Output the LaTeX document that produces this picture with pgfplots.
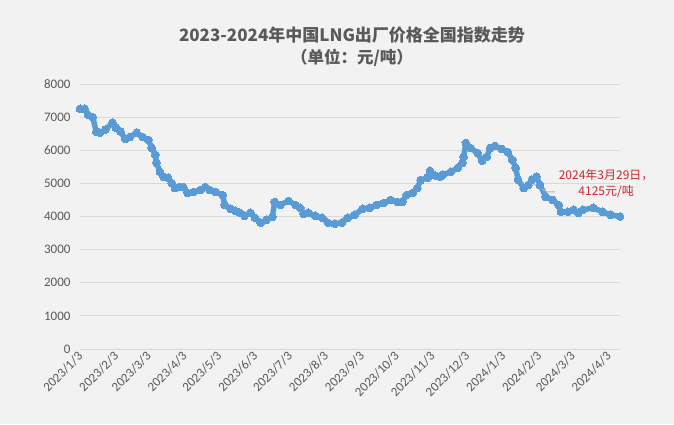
\documentclass[border=0pt]{standalone}
\usepackage{fontspec}
\setmainfont{Carlito}
\newfontfamily\cjk{Noto Sans CJK SC}
\usepackage{pgfplots}
\pgfplotsset{compat=1.18}

\definecolor{bg}{HTML}{F2F2F2}
\definecolor{gridc}{HTML}{D9D9D9}
\definecolor{txt}{HTML}{595959}
\definecolor{linec}{HTML}{5B9BD5}
\definecolor{annot}{HTML}{C8282D}

\begin{document}
\begin{tikzpicture}
\fill[bg] (0,0) rectangle (674pt,424pt);
\begin{axis}[
  at={(80pt,75pt)}, anchor=south west,
  scale only axis, width=540pt, height=265pt,
  xmin=0, xmax=466, ymin=0, ymax=8000,
  clip=false,
  axis line style={draw=none},
  major tick length=0pt,
  ymajorgrids, grid style={draw=gridc, line width=0.8pt},
  ytick={0,1000,...,8000},
  xtick={0,31,59,90,120,151,181,212,243,273,304,334,365,396,425,456},
  xticklabels={2023/1/3,2023/2/3,2023/3/3,2023/4/3,2023/5/3,2023/6/3,
    2023/7/3,2023/8/3,2023/9/3,2023/10/3,2023/11/3,2023/12/3,
    2024/1/3,2024/2/3,2024/3/3,2024/4/3},
  /pgf/number format/1000 sep={},
  /pgf/number format/assume math mode=true,
  yticklabel style={font=\fontsize{13}{15}\selectfont, text=txt, xshift=-6pt},
  xticklabel style={font=\fontsize{13}{15}\selectfont, text=txt,
    rotate=45, anchor=east, yshift=-4pt},
]
\addplot[color=linec, line width=5.5pt, line join=round, line cap=round,
  mark=*, mark size=3.9pt, mark options={fill=linec, draw=linec, line width=0pt}]
coordinates {
(0,7250)(4,7250)(7,7070)(11,7000)(14,6560)(17,6530)(22,6620)(28,6830)
(31,6680)(35,6560)(39,6340)(43,6400)(49,6530)(54,6400)(59,6310)(62,6070)
(65,5860)(66,5620)(69,5350)(72,5200)(76,5170)(79,5010)(82,4860)(86,4890)
(89,4890)(93,4710)(98,4740)(104,4800)(108,4890)(112,4800)(117,4740)(123,4650)
(125,4350)(130,4230)(134,4170)(138,4110)(142,4020)(147,4110)(151,3960)(156,3810)
(161,3900)(166,3990)(168,4440)(173,4350)(180,4470)(186,4350)(190,4260)(193,4080)
(197,4110)(203,4020)(209,3960)(214,3810)(220,3780)(226,3810)(231,3960)(237,4050)
(244,4230)(250,4260)(256,4350)(262,4410)(268,4500)(274,4440)(278,4440)(282,4650)
(287,4710)(291,4860)(294,5100)(300,5170)(302,5380)(307,5230)(311,5200)(313,5260)
(320,5350)(326,5470)(330,5620)(331,5800)(333,6220)(337,6070)(343,5920)(347,5680)
(351,5800)(354,6070)(358,6130)(364,6040)(369,5950)(373,5710)(376,5470)(378,5110)
(383,4860)(387,4950)(390,5110)(394,5200)(397,4950)(402,4590)(408,4500)(413,4350)
(415,4140)(421,4140)(426,4200)(430,4110)(434,4200)(443,4260)(451,4140)(458,4050)
(466,4000)
};
\draw[gray!60, line width=1pt] (axis cs:390,5011) -- (axis cs:403,4740) -- (axis cs:410,4740);
\node[text=annot, font=\cjk\fontsize{12}{16}\selectfont, align=center]
  at (axis cs:454,4990) {2024年3月29日，\\4125元/吨};
\end{axis}
\node[text=txt, font=\cjk\bfseries\fontsize{17}{19}\selectfont] at (352pt,389pt)
  {2023-2024年中国LNG出厂价格全国指数走势};
\node[text=txt, font=\cjk\bfseries\fontsize{16.5}{19}\selectfont] at (352pt,366pt)
  {（单位：元/吨）};
\end{tikzpicture}
\end{document}
